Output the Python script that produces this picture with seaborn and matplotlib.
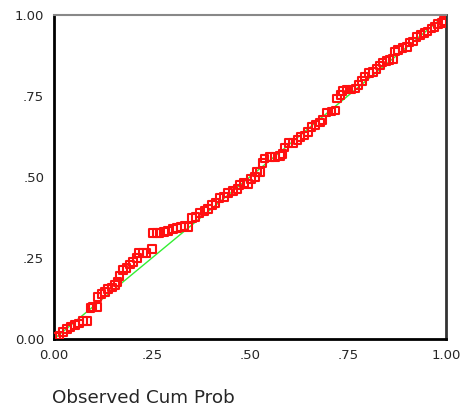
import numpy as np
import pandas as pd
import seaborn as sns
import matplotlib.pyplot as plt

# Observed vs expected cumulative probabilities
observed = [0.005, 0.015, 0.023, 0.033, 0.043, 0.054, 0.064, 0.074, 0.084,
            0.094, 0.099, 0.110, 0.112, 0.122, 0.130, 0.138, 0.148, 0.156,
            0.163, 0.168, 0.176, 0.186, 0.194, 0.202, 0.212, 0.217, 0.227,
            0.237, 0.250, 0.253, 0.263, 0.270, 0.281, 0.291, 0.304, 0.314,
            0.324, 0.334, 0.344, 0.352, 0.362, 0.372, 0.385, 0.393, 0.403,
            0.413, 0.423, 0.434, 0.444, 0.457, 0.469, 0.474, 0.485, 0.495,
            0.503, 0.513, 0.518, 0.526, 0.533, 0.538, 0.551, 0.564, 0.577,
            0.584, 0.589, 0.599, 0.610, 0.622, 0.630, 0.640, 0.648, 0.658,
            0.668, 0.679, 0.686, 0.696, 0.709, 0.719, 0.722, 0.732, 0.737,
            0.747, 0.760, 0.770, 0.778, 0.786, 0.793, 0.804, 0.814, 0.824,
            0.832, 0.839, 0.849, 0.857, 0.865, 0.870, 0.878, 0.890, 0.901,
            0.908, 0.916, 0.926, 0.936, 0.946, 0.954, 0.964, 0.972, 0.980,
            0.990, 0.995]
expected = [0.006, 0.012, 0.022, 0.031, 0.037, 0.043, 0.049, 0.056, 0.056,
            0.096, 0.099, 0.099, 0.130, 0.139, 0.145, 0.154, 0.160, 0.167,
            0.176, 0.194, 0.213, 0.219, 0.231, 0.238, 0.250, 0.265, 0.265,
            0.265, 0.278, 0.327, 0.327, 0.327, 0.330, 0.333, 0.340, 0.343,
            0.346, 0.349, 0.346, 0.373, 0.377, 0.389, 0.395, 0.401, 0.414,
            0.420, 0.435, 0.438, 0.451, 0.457, 0.463, 0.475, 0.481, 0.478,
            0.494, 0.500, 0.515, 0.515, 0.543, 0.556, 0.562, 0.562, 0.565,
            0.571, 0.590, 0.605, 0.605, 0.614, 0.623, 0.627, 0.639, 0.654,
            0.660, 0.667, 0.676, 0.698, 0.701, 0.704, 0.741, 0.753, 0.765,
            0.769, 0.769, 0.772, 0.784, 0.796, 0.809, 0.821, 0.824, 0.833,
            0.843, 0.852, 0.858, 0.861, 0.864, 0.886, 0.892, 0.898, 0.901,
            0.914, 0.917, 0.932, 0.938, 0.944, 0.948, 0.957, 0.963, 0.972,
            0.975, 0.981]

ref_line = [0.0, 1.0]
tick_vals = [0.0, 0.25, 0.50, 0.75, 1.0]
tick_labels = ['0.00', '.25', '.50', '.75', '1.00']

df = pd.DataFrame({'observed': observed, 'expected': expected})

sns.set_style('white')
plt.rcParams['font.family'] = ['DejaVu Sans']

fig = plt.figure(figsize=(4.61, 4.12), dpi=100)
ax = fig.add_axes([0.117, 0.177, 0.850, 0.787])

# diagonal reference line
sns.lineplot(x=ref_line, y=ref_line, color='#33ee33', lw=1.0, ax=ax)
sns.scatterplot(data=df, x='observed', y='expected', marker='s', s=28,
                fc='none', ec='#ff1010', linewidth=1.5, ax=ax, zorder=3)

ax.set_xlim(0, 1)
ax.set_ylim(0, 1)
ax.set_xticks(tick_vals)
ax.set_xticklabels(tick_labels)
ax.set_yticks(tick_vals)
ax.set_yticklabels(tick_labels)
ax.tick_params(direction='out', length=3, width=3, color='black',
               labelsize=9.5, pad=4)
ax.set_xlabel('')
ax.set_ylabel('')

for side in ['left', 'bottom']:
    ax.spines[side].set_color('black')
    ax.spines[side].set_linewidth(2)
ax.spines['right'].set_color('#333333')
ax.spines['right'].set_linewidth(2)
ax.spines['top'].set_color('#888888')
ax.spines['top'].set_linewidth(1.5)

fig.text(52 / 461, 1 - 398 / 412, 'Observed Cum Prob', fontsize=13.2,
         ha='left', va='center')

fig.savefig('out.png', dpi=100)
